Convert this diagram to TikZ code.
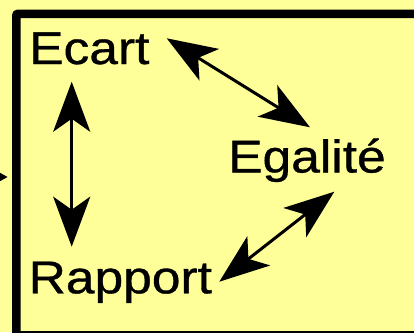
\documentclass[tikz,border=0pt]{standalone}
\usepackage{fontspec}
\setmainfont{Liberation Sans}
\newfontfamily\lblfont[FakeBold=0.7]{Liberation Sans}
\usetikzlibrary{arrows.meta}
\definecolor{bg}{RGB}{255,255,153}
\begin{document}
\begin{tikzpicture}[x=1pt,y=-1pt,
  lbl/.style={inner sep=0pt, anchor=base west, font=\lblfont\fontsize{46}{50}\selectfont},
  dbl/.style={line width=3pt, {Stealth[length=50pt,width=37pt,inset=13pt]}-{Stealth[length=50pt,width=37pt,inset=13pt]}},
  frame/.style={draw=black, line width=8.5pt, fill=bg, rounded corners=2pt, inner sep=0pt}]
\fill[bg] (0,0) rectangle (414,332);
\useasboundingbox (0,0) rectangle (414,332);
\node[frame, anchor=north west, minimum width=406pt, minimum height=321.5pt] (box) at (12,9.5) {};
% incoming connector from the left
\coordinate (src) at (-30,177);
\coordinate (in) at (7.5,177);
\draw[line width=1pt, -{Triangle[length=10pt,width=11pt]}] (src) -- (in);
% labels
\node[lbl] (ecart) at (29,64) {\scalebox{1.12}[1]{Ecart}};
\node[lbl] (egal) at (228,172.5) {\scalebox{1.12}[1]{Egalité}};
\node[lbl] (rapp) at (28.5,293.3) {\scalebox{1.12}[1]{Rapport}};
% arrow ends
\coordinate (ecA) at (166.7,38.3);
\coordinate (egA) at (310,127.3);
\coordinate (egB) at (334.3,191.7);
\coordinate (raB) at (219.3,281.7);
\coordinate (ecV) at (71.7,81.7);
\coordinate (raV) at (71.7,246.7);
\draw[dbl] (ecA) -- (egA);
\draw[dbl] (egB) -- (raB);
\draw[dbl] (ecV) -- (raV);
\end{tikzpicture}
\end{document}
